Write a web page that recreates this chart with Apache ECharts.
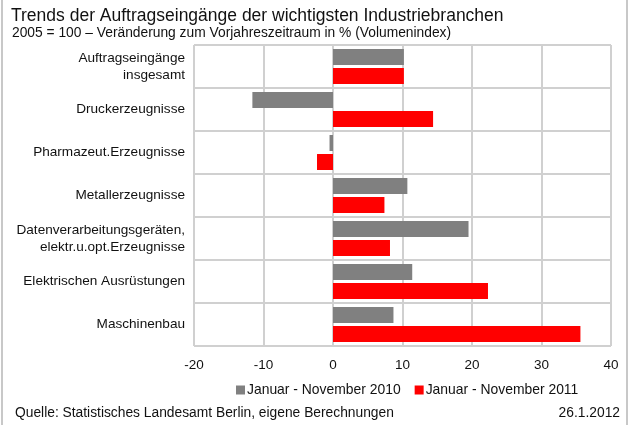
<!DOCTYPE html>
<html>
<head>
<meta charset="utf-8">
<script src="https://cdn.jsdelivr.net/npm/echarts@6/dist/echarts.min.js"></script>
<style>
  html, body { margin: 0; padding: 0; background: #fff; }
  #chart { width: 629px; height: 425px; }
</style>
</head>
<body>
<div id="chart"></div>
<script>
const categories = [
  'Auftragseingänge\ninsgesamt',
  'Druckerzeugnisse',
  'Pharmazeut.Erzeugnisse',
  'Metallerzeugnisse',
  'Datenverarbeitungsgeräten,\nelektr.u.opt.Erzeugnisse',
  'Elektrischen Ausrüstungen',
  'Maschinenbau'
];
const values2010 = [10.2, -11.6, -0.5, 10.7, 19.5, 11.4, 8.7];
const values2011 = [10.2, 14.4, -2.3, 7.4, 8.2, 22.3, 35.6];
const seriesNames = ['Januar - November 2010', 'Januar - November 2011'];

const font = 'Liberation Sans, Arial, sans-serif';
const gridColor = '#d0d0d0';

const chart = echarts.init(document.getElementById('chart'));

const option = {
  animation: false,
  textStyle: { fontFamily: font },
  title: [
    {
      text: 'Trends der Auftragseingänge der wichtigsten Industriebranchen',
      left: 6, top: 2,
      textStyle: { fontSize: 17.5, fontWeight: 'normal', color: '#111', fontFamily: font }
    },
    {
      text: '2005 = 100 – Veränderung zum Vorjahreszeitraum in % (Volumenindex)',
      left: 7, top: 21,
      textStyle: { fontSize: 13.8, fontWeight: 'normal', color: '#111', fontFamily: font }
    },
    {
      text: 'Quelle: Statistisches Landesamt Berlin, eigene Berechnungen',
      left: 10, top: 401,
      textStyle: { fontSize: 13.8, fontWeight: 'normal', color: '#111', fontFamily: font }
    },
    {
      text: '26.1.2012',
      right: 4, top: 401,
      textStyle: { fontSize: 13.8, fontWeight: 'normal', color: '#111', fontFamily: font }
    }
  ],
  legend: {
    left: 231, top: 378,
    icon: 'rect',
    itemWidth: 9, itemHeight: 9,
    itemGap: 14,
    textStyle: { fontSize: 13.9, color: '#111', fontFamily: font, padding: [0, 0, 0, -3] },
    data: seriesNames
  },
  grid: { left: 194, right: 18, top: 45, bottom: 79, containLabel: false },
  xAxis: {
    type: 'value',
    min: -20, max: 40, interval: 10,
    axisLine: { show: false },
    axisTick: { show: false },
    axisLabel: { fontSize: 13.5, color: '#111', margin: 12, fontFamily: font },
    splitLine: { show: true, lineStyle: { color: gridColor, width: 2 } }
  },
  yAxis: {
    type: 'category',
    inverse: true,
    data: categories,
    axisLine: { show: false },
    axisTick: { show: false },
    axisLabel: { fontSize: 13.6, color: '#111', margin: 9, lineHeight: 17, align: 'right', fontFamily: font },
    splitLine: { show: true, lineStyle: { color: gridColor, width: 2 } }
  },
  series: [
    {
      name: seriesNames[0],
      type: 'bar',
      data: values2010,
      barWidth: 16,
      barGap: '19%',
      itemStyle: { color: '#808080' }
    },
    {
      name: seriesNames[1],
      type: 'bar',
      data: values2011,
      barWidth: 16,
      itemStyle: { color: '#ff0000' }
    }
  ],
  graphic: [
    {
      type: 'rect',
      shape: { x: 2, y: -5, width: 625, height: 440 },
      style: { fill: 'none', stroke: '#c8c8c8', lineWidth: 2 },
      silent: true
    }
  ]
};

chart.setOption(option);
</script>
</body>
</html>
